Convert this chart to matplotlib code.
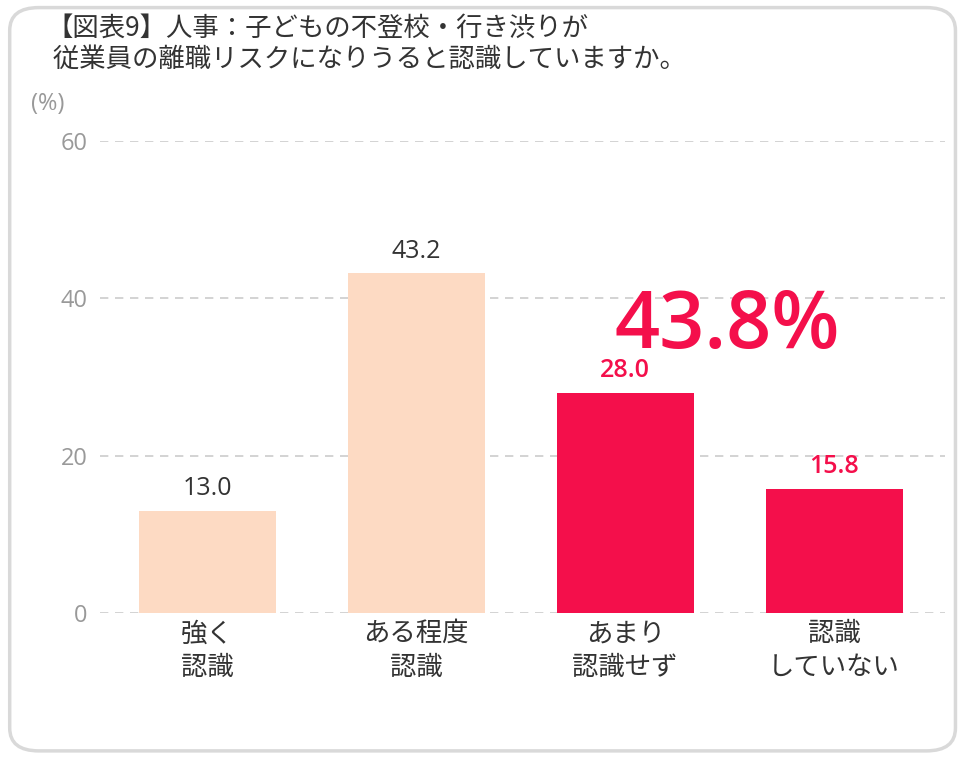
import matplotlib
matplotlib.use("Agg")
import matplotlib.pyplot as plt
from matplotlib.patches import FancyBboxPatch

plt.rcParams['font.family'] = ['Noto Sans CJK JP', 'DejaVu Sans']
num_font = ['Open Sans', 'Noto Sans CJK JP']

# data
categories = ["強く\n認識", "ある程度\n認識", "あまり\n認識せず", "認識\nしていない"]
values = [13.0, 43.2, 28.0, 15.8]
highlight = [False, False, True, True]
total_label = "43.8%"
title = "【図表9】人事：子どもの不登校・行き渋りが\n 従業員の離職リスクになりうると認識していますか。"
yticks = [0, 20, 40, 60]

peach = "#FDDAC3"
red = "#F40F4B"
text_col = "#333333"

fig = plt.figure(figsize=(9.7, 7.6), dpi=100)

# rounded frame
frame = FancyBboxPatch((0.01, 0.012), 0.975, 0.978, boxstyle="round,pad=0,rounding_size=0.03",
                       transform=fig.transFigure, facecolor="white", edgecolor="#d9d9d9",
                       linewidth=2.5, zorder=-5)
fig.patches.append(frame)

ax = fig.add_axes([0.103, 0.193, 0.871, 0.6215])
ax.set_facecolor("none")
ax.set_zorder(2)

x = range(len(values))
colors = [red if h else peach for h in highlight]
ax.bar(x, values, width=0.656, color=colors, zorder=3)

for i, v in enumerate(values):
    c = red if highlight[i] else text_col
    w = "semibold" if highlight[i] else "normal"
    ax.text(i, v + 2.8, f"{v:.1f}", ha="center", va="center", fontsize=18,
            color=c, fontweight=w, family=num_font)

ax.text(2.49, 36.4, total_label, ha="center", va="center", fontsize=57,
        color=red, fontweight="semibold", family=num_font)

ax.set_xlim(-0.515, 3.53)
ax.set_ylim(0, 60)
ax.set_yticks(yticks)
ax.set_yticklabels([str(t) for t in yticks], color="#999999", fontsize=17,
                   family=num_font)
ax.set_xticks(list(x))
ax.set_xticklabels(categories, fontsize=19, color=text_col, linespacing=1.32)
ax.tick_params(axis="both", length=0)
ax.tick_params(axis="x", pad=5)
ax.tick_params(axis="y", pad=9)
ax.yaxis.grid(True, linestyle=(0, (5, 4)), color="#cccccc", linewidth=1.2, zorder=0)
for s in ax.spines.values():
    s.set_visible(False)

fig.text(0.032, 0.863, "(%)", fontsize=17, color="#999999", va="center", family=num_font)
fig.text(0.048, 0.942, title, fontsize=19, color=text_col, va="center", linespacing=1.2)

fig.savefig("out.png", dpi=100)
